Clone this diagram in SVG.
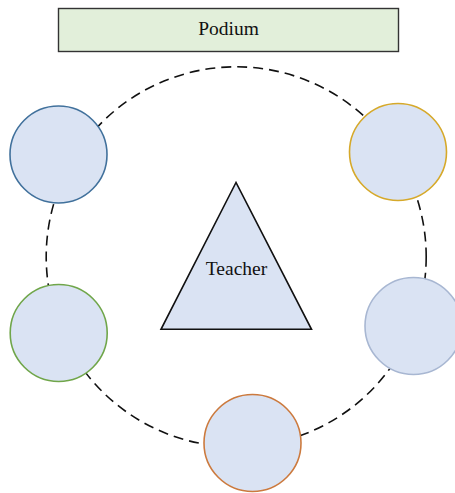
<svg xmlns="http://www.w3.org/2000/svg" width="455" height="493" viewBox="0 0 455 493">
<style>
.seat{fill:#dae3f3;stroke-width:1.6}
.lbl{font-family:"Liberation Serif","Times New Roman",serif;font-size:19.5px;fill:#111;text-anchor:middle}
</style>
<rect width="455" height="493" fill="#fff"/>
<g id="connectors">
<circle cx="236.2" cy="256.8" r="190" fill="none" stroke="#111" stroke-width="1.6" stroke-dasharray="10 6"/>
</g>
<g id="podium">
<rect x="58.5" y="8.5" width="340" height="43" fill="#e2efda" stroke="#333" stroke-width="1.4"/>
<text class="lbl" x="228.5" y="35">Podium</text>
</g>
<g id="teacher">
<polygon points="236,182.5 161,329.3 311.5,329.3" fill="#dae3f3" stroke="#111" stroke-width="1.6"/>
<text class="lbl" x="236.5" y="274.5">Teacher</text>
</g>
<g id="seat-top-left"><circle class="seat" cx="58.5" cy="154.5" r="48.5" stroke="#41719c"/></g>
<g id="seat-top-right"><circle class="seat" cx="398" cy="152" r="48.5" stroke="#d6a92a"/></g>
<g id="seat-left"><circle class="seat" cx="58.7" cy="333" r="48.5" stroke="#70a64a"/></g>
<g id="seat-right"><circle class="seat" cx="413.5" cy="326" r="48.5" stroke="#a8b7d2"/></g>
<g id="seat-bottom"><circle class="seat" cx="252.5" cy="443" r="48.5" stroke="#cc7a3e"/></g>
</svg>
